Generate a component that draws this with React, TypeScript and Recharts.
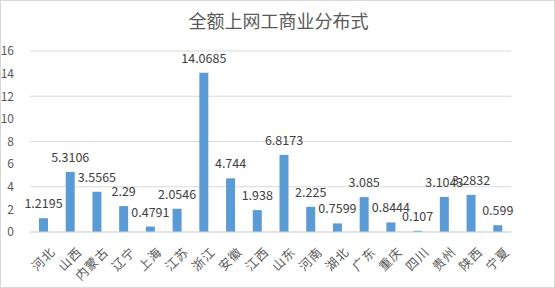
import { BarChart, Bar, XAxis, YAxis, CartesianGrid, LabelList } from "recharts";

const provinces = [
  "河北", "山西", "内蒙古", "辽宁", "上海", "江苏", "浙江", "安徽", "江西",
  "山东", "河南", "湖北", "广东", "重庆", "四川", "贵州", "陕西", "宁夏",
];

const amounts = [
  1.2195, 5.3106, 3.5565, 2.29, 0.4791, 2.0546, 14.0685, 4.744, 1.938,
  6.8173, 2.225, 0.7599, 3.085, 0.8444, 0.107, 3.1043, 3.2832, 0.599,
];

const yTicks = [0, 2, 4, 6, 8, 10, 12, 14, 16];

const data = provinces.map((name, i) => ({ name, value: amounts[i] }));

const font = "'Noto Sans CJK SC', 'Noto Sans', sans-serif";

function RotatedTick({ x, y, payload }: any) {
  return (
    <g transform={`translate(${x + 7},${y + 7})`}>
      <text
        transform="rotate(-45)"
        textAnchor="end"
        dy={8}
        fill="#595959"
        fontSize={12.5}
        fontFamily={font}
        letterSpacing={1}
      >
        {payload.value}
      </text>
    </g>
  );
}

export default function App() {
  return (
    <div
      style={{
        position: "fixed",
        left: 0,
        top: 0,
        width: 555,
        height: 288,
        boxSizing: "border-box",
        border: "1px solid #d9d9d9",
        background: "#fff",
        fontFamily: font,
      }}
    >
      <div
        style={{
          position: "absolute",
          top: 6,
          left: 0,
          width: 555,
          textAlign: "center",
          fontSize: 18,
          color: "#595959",
        }}
      >
        全额上网工商业分布式
      </div>
      <BarChart
        width={553}
        height={286}
        data={data}
        margin={{ top: 50, right: 43, left: 0, bottom: 0 }}
        barSize={9}
      >
        <CartesianGrid vertical={false} stroke="#d9d9d9" />
        <XAxis
          dataKey="name"
          interval={0}
          tickLine={false}
          axisLine={{ stroke: "#d9d9d9" }}
          tick={<RotatedTick />}
          height={55}
        />
        <YAxis
          domain={[0, 16]}
          ticks={yTicks}
          width={29}
          tickLine={false}
          axisLine={false}
          tickMargin={10}
          tick={{ fill: "#595959", fontSize: 12, fontFamily: font }}
        />
        <Bar dataKey="value" fill="#5b9bd5" isAnimationActive={false}>
          <LabelList
            dataKey="value"
            position="top"
            offset={10}
            fill="#404040"
            fontSize={12.5}
            fontFamily={font}
          />
        </Bar>
      </BarChart>
    </div>
  );
}
